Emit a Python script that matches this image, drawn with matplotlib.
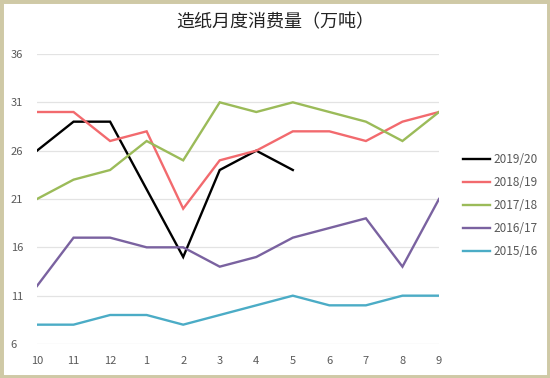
import matplotlib
matplotlib.use("Agg")
import matplotlib.pyplot as plt
from matplotlib.patches import Rectangle

plt.rcParams["font.family"] = ["Noto Sans CJK SC", "DejaVu Sans"]

# ── Data ──────────────────────────────────────────────────────────────────────
months = ["10", "11", "12", "1", "2", "3", "4", "5", "6", "7", "8", "9"]
y_ticks = [6, 11, 16, 21, 26, 31, 36]

s_2019 = [26, 29, 29, 22, 15, 24, 26, 24]
s_2018 = [30, 30, 27, 28, 20, 25, 26, 28, 28, 27, 29, 30]
s_2017 = [21, 23, 24, 27, 25, 31, 30, 31, 30, 29, 27, 30]
s_2016 = [12, 17, 17, 16, 16, 14, 15, 17, 18, 19, 14, 21]
s_2015 = [8, 8, 9, 9, 8, 9, 10, 11, 10, 10, 11, 11]

series = [
    ("2019/20", s_2019, "#000000"),
    ("2018/19", s_2018, "#f26a6e"),
    ("2017/18", s_2017, "#9bbb59"),
    ("2016/17", s_2016, "#7a62a0"),
    ("2015/16", s_2015, "#4bacc6"),
]

# ── Figure ────────────────────────────────────────────────────────────────────
fig = plt.figure(figsize=(5.5, 3.78), dpi=100)
fig.patch.set_facecolor("white")
fig.patches.append(Rectangle((0, 0), 1, 1, transform=fig.transFigure,
                             fill=False, edgecolor="#cfc9a6", linewidth=5))

ax = fig.add_axes([37 / 550, 1 - 344 / 378, 402 / 550, 290 / 378])
for lbl, vals, col in series:
    ax.plot(range(len(vals)), vals, color=col, linewidth=1.7, label=lbl,
            solid_joinstyle="miter")

ax.set_xlim(0, len(months) - 1)
ax.set_ylim(6, 36)
ax.set_xticks(range(len(months)))
ax.set_xticklabels(months)
ax.set_yticks(y_ticks)
ax.yaxis.grid(True, color="#e3e3e3", linewidth=0.9)
ax.set_axisbelow(True)
for sp in ax.spines.values():
    sp.set_visible(False)
ax.tick_params(length=0, labelsize=8, colors="#595959", pad=9)
ax.tick_params(axis="y", pad=19)
for t in ax.get_yticklabels():
    t.set_horizontalalignment("left")

fig.text(0.5, 0.94, "造纸月度消费量（万吨）", ha="center", va="center",
         fontsize=13, color="#222222")

fig.legend(loc="upper left", bbox_to_anchor=(463 / 550, 1 - 153 / 378),
           frameon=False, fontsize=8.5, handlelength=2.3, handletextpad=0.3,
           labelspacing=0.85, labelcolor="#595959",
           borderpad=0, borderaxespad=0)

fig.savefig("out.png", dpi=100)
